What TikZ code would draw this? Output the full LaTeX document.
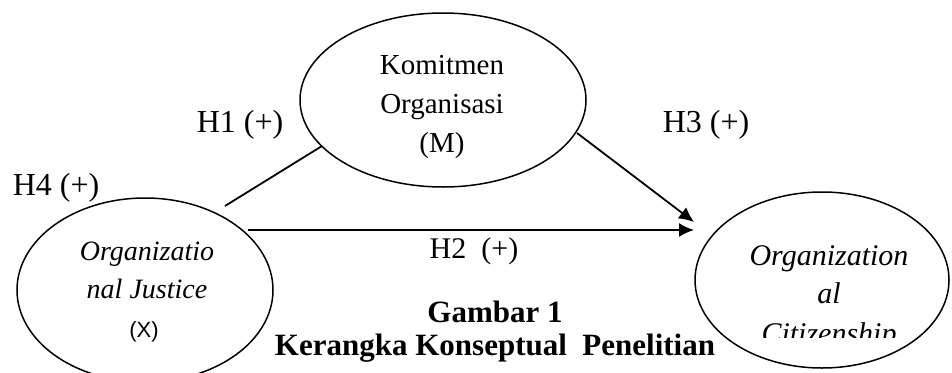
\documentclass[tikz,border=0pt]{standalone}
\usepackage{fontspec}
\setmainfont{Liberation Serif}
\newfontfamily\arialfont{Liberation Sans}
\usetikzlibrary{shapes.geometric,arrows.meta}
\begin{document}
\begin{tikzpicture}[x=1pt,y=-1pt,
  oval/.style={draw,ellipse,line width=1.5pt,inner sep=0pt},
  txt/.style={inner sep=0pt,anchor=base},
  lbl/.style={txt,font=\fontsize{32}{36}\selectfont},
  conn/.style={line width=1.8pt},
  arr/.style={conn,-{Latex[length=15pt,width=14pt]}}]
\useasboundingbox (0,0) rectangle (952,372);
% ellipses
\node[oval,minimum width=286pt,minimum height=174pt] (M) at (443,100) {};
\node[oval,minimum width=256pt,minimum height=184pt] (X) at (145,290) {};
\node[oval,minimum width=254pt,minimum height=176pt] (Y) at (822,280) {};
% texts
\node[txt,font=\fontsize{29}{33}\selectfont] (m1) at (442,74) {Komitmen};
\node[txt,font=\fontsize{29}{33}\selectfont] (m2) at (442,113) {Organisasi};
\node[txt,font=\fontsize{29}{33}\selectfont] (m3) at (442,152) {(M)};
\node[txt,font=\fontsize{28}{32}\selectfont\itshape] (x1) at (147,260) {Organizatio};
\node[txt,font=\fontsize{28}{32}\selectfont\itshape] (x2) at (147,298) {nal Justice};
\node[txt,font=\fontsize{22}{26}\selectfont\arialfont] (x3) at (144,337) {(X)};
\begin{scope}
\clip (690,230) rectangle (952,337);
\node[txt,font=\fontsize{30}{34}\selectfont\itshape] (y1) at (829,265) {Organization};
\node[txt,font=\fontsize{30}{34}\selectfont\itshape] (y2) at (829,303) {al};
\node[txt,font=\fontsize{30}{34}\selectfont\itshape] (y3) at (829,343) {Citizenship};
\end{scope}
% labels
\node[lbl] (h1) at (240,132) {H1 (+)};
\node[lbl] (h3) at (706,132) {H3 (+)};
\node[lbl] (h4) at (56,195) {H4 (+)};
\node[txt,font=\fontsize{30}{34}\selectfont] (h2) at (474,258) {H2~~(+)};
\node[lbl,font=\fontsize{31}{35}\selectfont\bfseries] (g1) at (495,322) {Gambar 1};
\node[lbl,font=\fontsize{31}{35}\selectfont\bfseries] (g2) at (495,355) {Kerangka Konseptual~~Penelitian};
% connectors
\coordinate (h1s) at (225,206);
\coordinate (h1e) at (322,146);
\coordinate (h3s) at (577,133);
\coordinate (h3e) at (694,222);
\coordinate (h2s) at (248,230);
\coordinate (h2e) at (694,230);
\draw[conn] (h1s) -- (h1e);
\draw[arr] (h3s) -- (h3e);
\draw[arr] (h2s) -- (h2e);
\end{tikzpicture}
\end{document}
